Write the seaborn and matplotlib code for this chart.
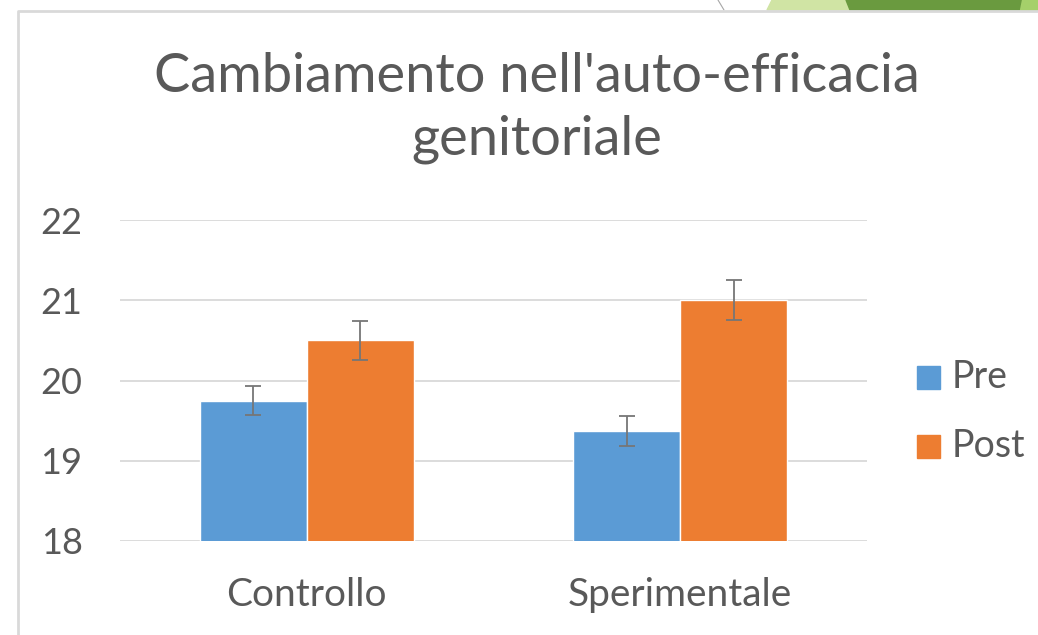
import numpy as np
import pandas as pd
import matplotlib.pyplot as plt
import seaborn as sns
from matplotlib.patches import Polygon, Rectangle
from matplotlib.lines import Line2D

# values
gruppi = ['Controllo', 'Controllo', 'Sperimentale', 'Sperimentale']
fasi = ['Pre', 'Post', 'Pre', 'Post']
medie = [19.75, 20.5, 19.37, 21.0]
errori = [0.18, 0.24, 0.19, 0.25]
y_ticks = [18, 19, 20, 21, 22]

colori = {'Pre': '#5B9BD5', 'Post': '#ED7D31'}
testo = '#595959'

df = pd.DataFrame({'Gruppo': gruppi, 'Fase': fasi, 'Media': medie, 'Errore': errori})

sns.set_theme(style='white')
plt.rcParams['font.family'] = ['Lato', 'DejaVu Sans']

fig = plt.figure(figsize=(10.38, 6.35), dpi=100)
W, H = 1038, 635

def px(x, y):
    return (x / W, 1 - y / H)

# slide decoration above the chart frame
fig.patches.append(Polygon([px(772, 0), px(846, 0), px(850, 10), px(767, 10)],
                           closed=True, transform=fig.transFigure, color='#D0E4A4', zorder=0))
fig.patches.append(Polygon([px(846, 0), px(1022, 0), px(1020, 10), px(850, 10)],
                           closed=True, transform=fig.transFigure, color='#6A9A3F', zorder=0))
fig.patches.append(Polygon([px(1022, 0), px(1038, 0), px(1038, 10), px(1020, 10)],
                           closed=True, transform=fig.transFigure, color='#A5D06A', zorder=0))
fig.lines.append(Line2D([718 / W, 724 / W], [1, 1 - 10 / H], transform=fig.transFigure,
                        color='#A6A6A6', lw=0.8))
# chart frame border
fig.lines.append(Line2D([18 / W, 18 / W, 1], [0, 1 - 11 / H, 1 - 11 / H], transform=fig.transFigure,
                        color='#D9D9D9', lw=2))

ax = fig.add_axes([120 / W, (H - 541) / H, 747 / W, 321 / H])
sns.barplot(data=df, x='Gruppo', y='Media', hue='Fase', hue_order=['Pre', 'Post'],
            palette=colori, width=0.574, gap=0, errorbar=None, saturation=1,
            legend=False, ax=ax, zorder=2)

# error bars placed at the bar centres seaborn produced
for fase, cont in zip(['Pre', 'Post'], ax.containers):
    sub = df[df['Fase'] == fase]
    xs = [b.get_x() + b.get_width() / 2 for b in cont]
    ax.errorbar(xs, sub['Media'], yerr=sub['Errore'], fmt='none', ecolor='#767676',
                elinewidth=1.3, capsize=6, capthick=1.3, zorder=3)

ax.set_ylim(18, 22)
ax.set_xlim(-0.5, 1.5)
ax.set_yticks(y_ticks)
ax.yaxis.grid(True, color='#D9D9D9', lw=1.3, zorder=0)
ax.set_axisbelow(True)
for s in ax.spines.values():
    s.set_visible(False)
ax.tick_params(axis='both', length=0, colors=testo)
ax.tick_params(axis='y', pad=27, labelsize=26)
ax.tick_params(axis='x', pad=26, labelsize=28)
ax.set_xlabel('')
ax.set_ylabel('')

fig.text(537 / W, 1 - 108 / H, "Cambiamento nell'auto-efficacia\ngenitoriale",
         ha='center', va='center', fontsize=39, color=testo, linespacing=1.35)

# legend
for i, fase in enumerate(['Pre', 'Post']):
    yc = 377 + i * 69
    fig.patches.append(Rectangle(px(917, yc + 11.5), 23 / W, 23 / H, transform=fig.transFigure,
                                 color=colori[fase]))
    fig.text(952 / W, 1 - yc / H, fase, ha='left', va='center', fontsize=27, color=testo)

fig.savefig('out.png', dpi=100, facecolor='white')
